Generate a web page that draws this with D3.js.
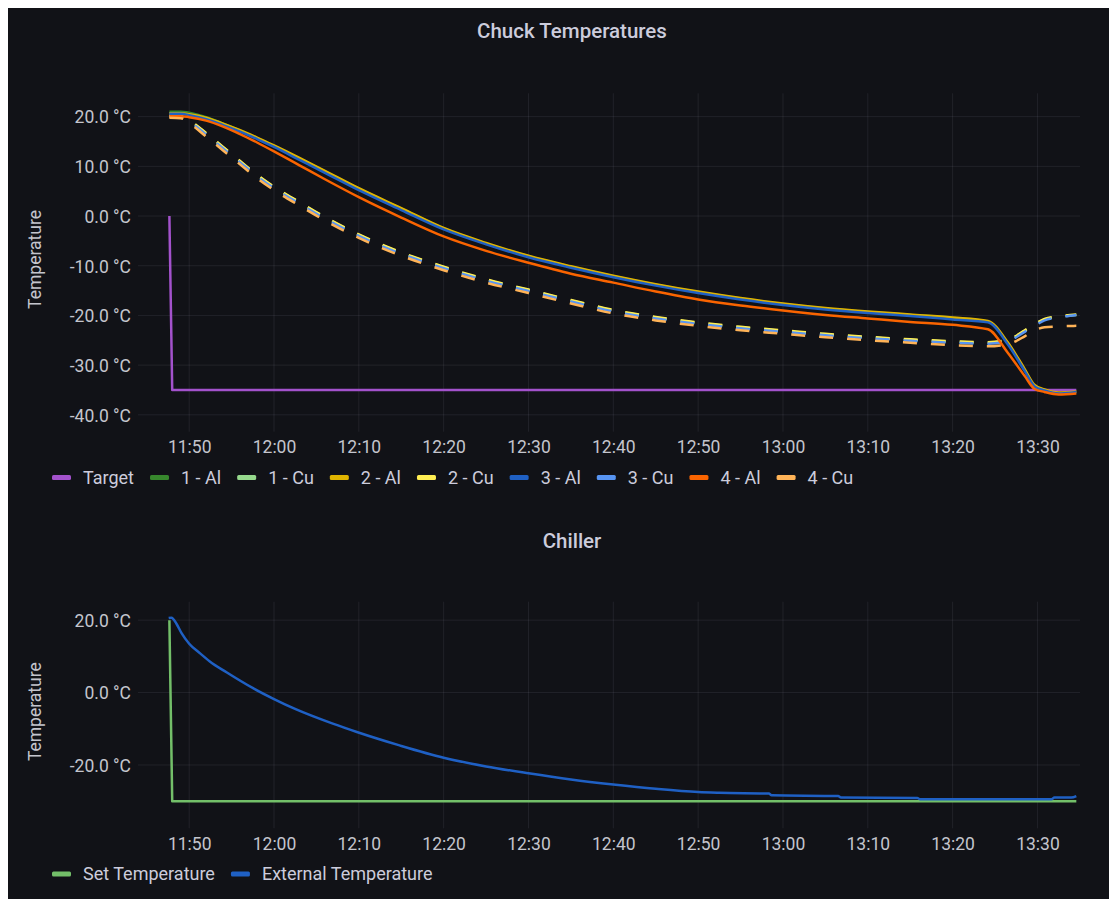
<!DOCTYPE html>
<html>
<head>
<meta charset="utf-8">
<script src="https://cdn.jsdelivr.net/npm/d3@7"></script>
<style>
  html, body { margin: 0; padding: 0; background: #ffffff; }
  svg { display: block; }
  text { font-family: Roboto, "Noto Sans", sans-serif; }
</style>
</head>
<body>
<svg id="chart" width="1110" height="899"></svg>
<script>
// ---------- Chuck temperatures ----------
const chuckTimes = ["11:47:40","11:49:00","11:50:00","11:52:00","11:54:00","11:56:00","11:58:00","12:00:00",
  "12:03:00","12:06:00","12:10:00","12:15:00","12:20:00","12:25:00","12:30:00","12:35:00","12:40:00",
  "12:45:00","12:50:00","12:55:00","13:00:00","13:05:00","13:10:00","13:15:00","13:20:00","13:24:10",
  "13:26:30","13:28:30","13:29:40","13:30:50","13:32:30","13:34:35"];

const targetTimes = ["11:47:40","11:48:00","13:34:35"];
const targetValues = [0, -35, -35];

const al1 = [21.0,21.0,20.8,19.9,18.6,17.2,15.7,14.1,11.6,9.0,5.5,1.5,-2.5,-5.5,-8.1,-10.2,-12.1,-13.8,-15.3,-16.6,-17.7,-18.6,-19.3,-19.9,-20.5,-21.2,-25.6,-31.0,-34.2,-35.0,-35.6,-35.4];
const cu1 = [20.1,20.0,19.2,16.6,13.8,11.0,8.2,5.8,2.7,-0.3,-3.8,-7.4,-10.3,-12.8,-14.9,-17.0,-19.0,-20.4,-21.5,-22.4,-23.1,-23.8,-24.4,-24.9,-25.3,-25.5,-25.0,-23.1,-21.9,-20.8,-20.3,-19.9];
const al2 = [20.7,20.7,20.5,19.8,18.6,17.3,15.8,14.2,11.7,9.1,5.6,1.6,-2.4,-5.4,-8.0,-10.1,-12.0,-13.7,-15.2,-16.5,-17.6,-18.5,-19.2,-19.8,-20.4,-21.1,-25.4,-30.8,-34.0,-34.9,-35.5,-35.3];
const cu2 = [20.2,20.1,19.3,16.7,13.9,11.1,8.3,5.9,2.8,-0.2,-3.7,-7.3,-10.2,-12.7,-14.8,-16.9,-18.9,-20.3,-21.4,-22.3,-23.0,-23.7,-24.3,-24.8,-25.2,-25.4,-24.9,-23.0,-21.8,-20.7,-20.2,-19.8];
const al3 = [20.6,20.6,20.3,19.5,18.3,17.0,15.5,13.9,11.3,8.7,5.2,1.2,-2.7,-5.7,-8.3,-10.4,-12.3,-14.0,-15.5,-16.8,-17.9,-18.8,-19.5,-20.1,-20.8,-21.4,-25.8,-31.2,-34.3,-35.1,-35.7,-35.4];
const cu3 = [20.0,19.9,19.0,16.4,13.6,10.8,8.0,5.6,2.5,-0.5,-4.0,-7.6,-10.5,-13.0,-15.1,-17.2,-19.2,-20.6,-21.7,-22.6,-23.3,-24.0,-24.6,-25.1,-25.5,-25.7,-25.2,-23.3,-22.1,-21.0,-20.4,-19.9];
const al4 = [20.1,20.1,19.9,19.2,18.0,16.5,14.8,13.0,10.2,7.4,3.8,-0.3,-4.1,-7.0,-9.4,-11.6,-13.4,-15.2,-16.8,-18.0,-19.0,-19.9,-20.6,-21.3,-21.9,-22.8,-27.5,-32.2,-34.8,-35.4,-35.9,-35.7];
const cu4 = [19.8,19.7,18.7,16.0,13.2,10.4,7.6,5.2,2.1,-0.9,-4.4,-8.0,-10.9,-13.4,-15.5,-17.6,-19.6,-21.0,-22.1,-23.0,-23.7,-24.4,-25.0,-25.5,-26.0,-26.2,-25.8,-24.2,-23.0,-22.4,-22.2,-22.1];

const chuckTicks = [20, 10, 0, -10, -20, -30, -40];

// ---------- Chiller ----------
const setTimes = ["11:47:40","11:48:00","13:34:35"];
const setValues = [20, -30, -30];

const externalTimes = ["11:47:35","11:47:55","11:48:30","11:49:06","11:50:00","11:51:15","11:52:26","11:54:24",
  "11:57:32","12:00:00","12:02:33","12:06:56","12:09:46","12:14:48","12:20:00","12:25:00","12:30:00",
  "12:35:00","12:40:00","12:45:00","12:50:00","12:52:30","12:58:20","12:58:40","13:06:30","13:06:50",
  "13:15:50","13:16:10","13:31:40","13:32:00","13:34:00","13:34:35"];
const externalValues = [20.6,20.7,19.0,16.4,13.5,10.9,8.6,5.6,1.2,-1.8,-4.6,-8.6,-10.9,-14.6,-18.0,-20.4,-22.3,
  -24.0,-25.4,-26.6,-27.5,-27.7,-27.9,-28.4,-28.6,-29.0,-29.1,-29.5,-29.5,-29.0,-29.0,-28.6];

const chillerTicks = [20, 0, -20];

const timeRange = ["11:43:58", "13:35:01"];

// ---------- styling ----------
const palette = {
  "Target": "#A352CC",
  "1 - Al": "#37872D", "1 - Cu": "#96D98D",
  "2 - Al": "#E0B400", "2 - Cu": "#FFEE52",
  "3 - Al": "#1F60C4", "3 - Cu": "#5794F2",
  "4 - Al": "#FA6400", "4 - Cu": "#FFB357",
  "Set Temperature": "#73BF69", "External Temperature": "#1F60C4"
};

const parseT = d3.timeParse("%H:%M:%S");
const toPoints = (times, values) => times.map((t, i) => ({ t: parseT(t), v: values[i] }));

const chuckSeries = [
  { name: "Target", points: toPoints(targetTimes, targetValues), dashed: false, curve: d3.curveLinear },
  { name: "1 - Al", points: toPoints(chuckTimes, al1), dashed: false, curve: d3.curveMonotoneX },
  { name: "1 - Cu", points: toPoints(chuckTimes, cu1), dashed: true,  curve: d3.curveMonotoneX },
  { name: "2 - Al", points: toPoints(chuckTimes, al2), dashed: false, curve: d3.curveMonotoneX },
  { name: "2 - Cu", points: toPoints(chuckTimes, cu2), dashed: true,  curve: d3.curveMonotoneX },
  { name: "3 - Al", points: toPoints(chuckTimes, al3), dashed: false, curve: d3.curveMonotoneX },
  { name: "3 - Cu", points: toPoints(chuckTimes, cu3), dashed: true,  curve: d3.curveMonotoneX },
  { name: "4 - Al", points: toPoints(chuckTimes, al4), dashed: false, curve: d3.curveMonotoneX },
  { name: "4 - Cu", points: toPoints(chuckTimes, cu4), dashed: true,  curve: d3.curveMonotoneX }
];

const chillerSeries = [
  { name: "Set Temperature", points: toPoints(setTimes, setValues), dashed: false, curve: d3.curveLinear },
  { name: "External Temperature", points: toPoints(externalTimes, externalValues), dashed: false, curve: d3.curveMonotoneX }
];

const svg = d3.select("#chart");
const W = 1110, H = 899;

svg.append("rect").attr("width", W).attr("height", H).attr("fill", "#ffffff");
svg.append("rect").attr("x", 8).attr("y", 8).attr("width", 1101).attr("height", H - 8).attr("fill", "#111217");

const TEXT = "#ccccdc";
const TICK_TEXT = "#c4c5cd";
const GRID = "rgba(204,204,220,0.09)";

const x = d3.scaleTime().domain(timeRange.map(parseT)).range([138, 1080]);

function drawPanel(cfg) {
  const g = svg.append("g");
  const y = d3.scaleLinear().domain(cfg.yDomain).range([cfg.yBot, cfg.yTop]);

  // title
  g.append("text")
    .attr("x", 572).attr("y", cfg.titleY)
    .attr("text-anchor", "middle")
    .attr("fill", TEXT)
    .attr("font-size", 20.5).attr("font-weight", 500)
    .text(cfg.title);

  // grid
  const xTicks = x.ticks(d3.timeMinute.every(10));
  g.append("g").selectAll("line").data(xTicks).join("line")
    .attr("x1", d => x(d)).attr("x2", d => x(d))
    .attr("y1", cfg.yTop).attr("y2", cfg.yBot)
    .attr("stroke", GRID).attr("stroke-width", 1);
  g.append("g").selectAll("line").data(cfg.ticks).join("line")
    .attr("x1", 138).attr("x2", 1080)
    .attr("y1", d => y(d)).attr("y2", d => y(d))
    .attr("stroke", GRID).attr("stroke-width", 1);

  // x axis
  const xAxis = d3.axisBottom(x).tickValues(xTicks).tickFormat(d3.timeFormat("%H:%M")).tickSize(0).tickPadding(0);
  const xg = g.append("g").attr("transform", `translate(0,${cfg.xLabelY})`).call(xAxis);
  xg.select(".domain").remove();
  xg.selectAll("text").attr("dy", 0).attr("y", 0)
    .attr("fill", TICK_TEXT).attr("font-size", 17.5).attr("font-family", "Roboto, sans-serif");

  // y axis
  const yAxis = d3.axisLeft(y).tickValues(cfg.ticks).tickFormat(d => d.toFixed(1) + " °C").tickSize(0).tickPadding(0);
  const yg = g.append("g").attr("transform", "translate(131,0)").call(yAxis);
  yg.select(".domain").remove();
  yg.selectAll("text").attr("dy", "0.36em")
    .attr("fill", TICK_TEXT).attr("font-size", 17.5).attr("font-family", "Roboto, sans-serif");

  // axis title
  g.append("text")
    .attr("transform", `translate(35,${cfg.axisTitleCY}) rotate(-90)`)
    .attr("text-anchor", "middle").attr("dy", "0.35em")
    .attr("fill", TICK_TEXT).attr("font-size", 17.5)
    .text("Temperature");

  // series
  const clipId = "clip-" + cfg.id;
  svg.append("clipPath").attr("id", clipId).append("rect")
    .attr("x", 138).attr("y", cfg.yTop).attr("width", 942).attr("height", cfg.yBot - cfg.yTop);
  const lines = g.append("g").attr("clip-path", `url(#${clipId})`);
  cfg.series.forEach(s => {
    const line = d3.line().x(d => x(d.t)).y(d => y(d.v)).curve(s.curve);
    lines.append("path")
      .datum(s.points)
      .attr("d", line)
      .attr("fill", "none")
      .attr("stroke", palette[s.name])
      .attr("stroke-width", 2.5)
      .attr("stroke-linejoin", "round")
      .attr("stroke-dasharray", s.dashed ? "14,14" : null);
  });

  // legend
  const lg = g.append("g");
  let cx = 52;
  cfg.series.forEach(s => {
    lg.append("rect")
      .attr("x", cx).attr("y", cfg.legendY - 2.5)
      .attr("width", 19).attr("height", 5).attr("rx", 1.5)
      .attr("fill", palette[s.name]);
    const t = lg.append("text")
      .attr("x", cx + 31).attr("y", cfg.legendY)
      .attr("dy", "0.35em")
      .attr("fill", TEXT).attr("font-size", 18)
      .text(s.name);
    cx += 31 + t.node().getComputedTextLength() + 16;
  });
}

drawPanel({
  id: "chuck", title: "Chuck Temperatures", titleY: 38,
  yDomain: [-43.4, 24.7], yTop: 93.3, yBot: 431.7, ticks: chuckTicks,
  xLabelY: 453, legendY: 477.5, axisTitleCY: 259.5, series: chuckSeries
});

drawPanel({
  id: "chiller", title: "Chiller", titleY: 548,
  yDomain: [-37.5, 25.1], yTop: 601.7, yBot: 828.3, ticks: chillerTicks,
  xLabelY: 850, legendY: 874, axisTitleCY: 711.7, series: chillerSeries
});
</script>
</body>
</html>
